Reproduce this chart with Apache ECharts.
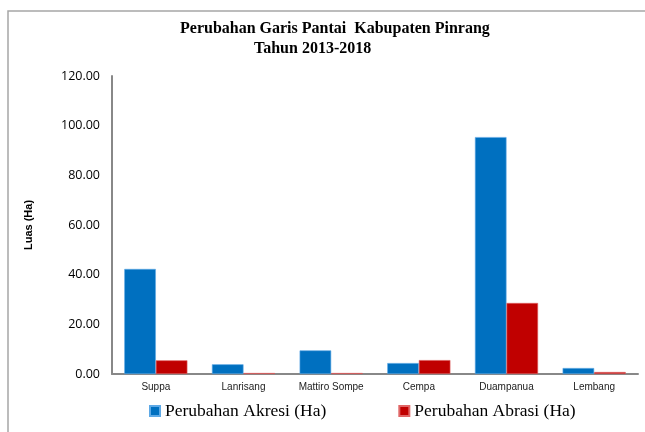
<!DOCTYPE html>
<html>
<head>
<meta charset="utf-8">
<script src="https://cdn.jsdelivr.net/npm/echarts@6/dist/echarts.min.js"></script>
<style>
html,body{margin:0;padding:0;background:#fff;}
#chart{width:645px;height:432px;}
</style>
</head>
<body>
<div id="chart"></div>
<script>
// data
var kategori = ['Suppa', 'Lanrisang', 'Mattiro Sompe', 'Cempa', 'Duampanua', 'Lembang'];
var akresi = [42.3, 3.9, 9.5, 4.4, 95.4, 2.4];  // Perubahan Akresi (Ha)
var abrasi = [5.5, 0.4, 0.4, 5.6, 28.6, 0.8];   // Perubahan Abrasi (Ha)
var yTicks = [0, 20, 40, 60, 80, 100, 120];

var chart = echarts.init(document.getElementById('chart'));
var option = {
    animation: false,
    color: ['#0070c0', '#c00000'],
    graphic: [
        {   // bingkai luar
            type: 'rect',
            shape: {x: 8, y: 11, width: 660, height: 440},
            style: {fill: 'none', stroke: '#a6a6a6', lineWidth: 1.5},
            silent: true
        },
        {
            type: 'text',
            left: 180, top: 21,
            style: {
                text: 'Perubahan Garis Pantai  Kabupaten Pinrang',
                font: 'bold 16px "Liberation Serif", serif',
                fill: '#000'
            }
        },
        {
            type: 'text',
            left: 254, top: 41,
            style: {
                text: 'Tahun 2013-2018',
                font: 'bold 16px "Liberation Serif", serif',
                fill: '#000'
            }
        }
    ],
    legend: {
        data: ['Perubahan Akresi (Ha)', 'Perubahan Abrasi (Ha)'],
        left: 144,
        top: 397,
        itemWidth: 10,
        itemHeight: 10,
        itemGap: 72,
        icon: 'rect',
        textStyle: {
            fontFamily: '"Liberation Serif", serif',
            fontSize: 17.5,
            color: '#000'
        }
    },
    grid: {
        left: 112,
        right: 7,
        top: 76,
        bottom: 58
    },
    xAxis: [{
        type: 'category',
        data: kategori,
        axisLine: {lineStyle: {color: '#888', width: 2}},
        axisTick: {show: false},
        axisLabel: {
            fontFamily: '"Liberation Sans", Arial',
            fontSize: 10,
            color: '#222',
            margin: 8,
            interval: 0
        }
    }],
    yAxis: [{
        type: 'value',
        min: yTicks[0],
        max: yTicks[yTicks.length - 1],
        interval: 20,
        name: 'Luas (Ha)',
        nameLocation: 'middle',
        nameGap: 78,
        nameRotate: 90,
        nameTextStyle: {
            fontFamily: '"Liberation Sans", Arial',
            fontSize: 11,
            fontWeight: 'bold',
            color: '#000'
        },
        axisLine: {show: true, lineStyle: {color: '#888', width: 2}},
        axisTick: {show: false},
        splitLine: {show: false},
        axisLabel: {
            fontFamily: '"Open Sans", sans-serif',
            fontSize: 12.5,
            color: '#000',
            margin: 12,
            formatter: function (v) { return v.toFixed(2); }
        }
    }],
    series: [
        {
            name: 'Perubahan Akresi (Ha)',
            type: 'bar',
            barCategoryGap: '28%',
            barGap: '0%',
            itemStyle: {borderColor: '#5ea9e6', borderWidth: 0.6},
            data: akresi
        },
        {
            name: 'Perubahan Abrasi (Ha)',
            type: 'bar',
            barCategoryGap: '28%',
            barGap: '0%',
            itemStyle: {borderColor: '#e06666', borderWidth: 0.6},
            data: abrasi
        }
    ]
};
chart.setOption(option);
</script>
</body>
</html>
